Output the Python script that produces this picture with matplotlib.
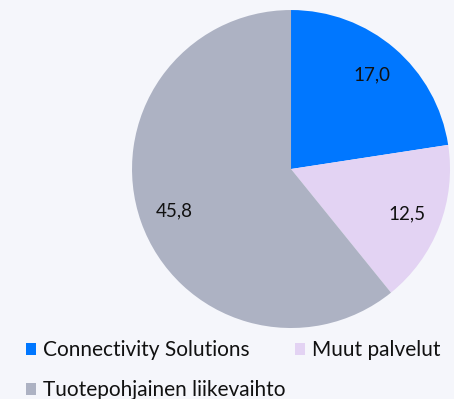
import matplotlib.pyplot as plt

# Revenue split (MEUR)
labels = ["Connectivity Solutions", "Muut palvelut", "Tuotepohjainen liikevaihto"]
values = [17.0, 12.5, 45.8]
colors = ["#0077ff", "#e3d3f3", "#adb2c3"]

plt.rcParams['font.family'] = ['Lato', 'DejaVu Sans']
bg = "#f5f6fb"

fig = plt.figure(figsize=(4.54, 3.99), dpi=100, facecolor=bg)
ax = fig.add_axes([0.2908, 0.1779, 0.7004, 0.797])
ax.set_facecolor(bg)

wedges, texts = ax.pie(
    values,
    colors=colors,
    startangle=90,
    counterclock=False,
    radius=1,
    labels=[f"{v:.1f}".replace(".", ",") for v in values],
    labeldistance=0.78,
    wedgeprops=dict(linewidth=0),
    textprops=dict(fontsize=13.5, color="#111111", ha="center", va="center"),
)
ax.set_xlim(-1, 1)
ax.set_ylim(-1, 1)
ax.set_aspect("equal")

# legend fills column-wise, so reorder to get two items on the first row
order = [0, 2, 1]
leg = fig.legend(
    [wedges[i] for i in order],
    [labels[i] for i in order],
    ncol=2,
    loc="lower left",
    bbox_to_anchor=(0.016, -0.05),
    frameon=False,
    fontsize=15,
    handlelength=0.48,
    handleheight=0.48,
    handletextpad=0.35,
    columnspacing=0.45,
    labelspacing=0.96,
    labelcolor="#111111",
)

fig.savefig("out.png", dpi=100, facecolor=bg)
